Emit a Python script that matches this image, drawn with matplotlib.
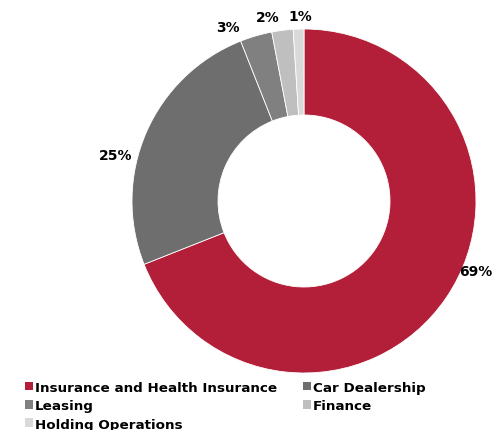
import matplotlib.pyplot as plt
from matplotlib.patches import Patch

# segment shares, clockwise from 12 o'clock
segments = ["Insurance and Health Insurance", "Car Dealership", "Leasing", "Finance", "Holding Operations"]
shares = [69, 25, 3, 2, 1]
colors = ["#B31E38", "#6E6E6E", "#808080", "#BFBFBF", "#D9D9D9"]

# where each percentage label sits (pie radius = 1)
label_pos = [(1.0, -0.405), (-1.095, 0.27), (-0.442, 1.012), (-0.209, 1.072), (-0.023, 1.077)]

W, H = 494, 431
fig = plt.figure(figsize=(W / 100, H / 100), dpi=100)

cx, cy, r = 304, 202, 172
ax = fig.add_axes([(cx - r) / W, (H - cy - r) / H, 2 * r / W, 2 * r / H])
ax.pie(shares, colors=colors, startangle=90, counterclock=False, radius=1.0,
       wedgeprops=dict(width=0.5, edgecolor="white", linewidth=0.6))
ax.set_xlim(-1, 1)
ax.set_ylim(-1, 1)
ax.set_axis_off()

for v, (x, y) in zip(shares, label_pos):
    ax.text(x, y, f"{v}%", ha="center", va="center", fontsize=10,
            fontweight="bold", family="DejaVu Sans", clip_on=False)

# legend filled row by row: reorder handles for two columns
handles = [Patch(facecolor=c, edgecolor="none") for c in colors]
order = [0, 2, 4, 1, 3]
leg = fig.legend([handles[i] for i in order], [segments[i] for i in order],
                 ncol=2, loc="upper left", bbox_transform=fig.transFigure,
                 bbox_to_anchor=(18 / W, 1 - 375 / H), frameon=False,
                 prop=dict(family="DejaVu Sans", weight="bold", size=9.7),
                 handlelength=0.6, handleheight=0.6, handletextpad=0.15,
                 columnspacing=1.9, labelspacing=0.4, borderpad=0)

fig.savefig("out.png", dpi=100)
